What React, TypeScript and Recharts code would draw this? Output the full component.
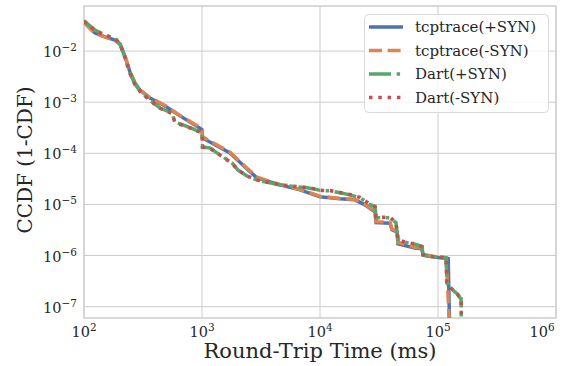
import React from "react";
import {
  LineChart,
  Line,
  XAxis,
  YAxis,
  CartesianGrid,
  Legend,
  ReferenceArea,
} from "recharts";

// [round-trip time (ms), ccdf]
const tcptraceSyn = [
  [100, 0.0368], [124, 0.0225], [151, 0.019], [183, 0.0164], [202, 0.0137],
  [222, 0.008], [245, 0.0039], [270, 0.00237], [298, 0.00173], [362, 0.00121],
  [486, 0.00084], [651, 0.00054], [791, 0.00041], [961, 0.00031], [1000, 0.00029],
  [1010, 0.0002], [1726, 0.000102], [2310, 0.000054], [2925, 0.000033],
  [4580, 0.0000241], [6770, 0.0000193], [10000, 0.0000141], [14760, 0.0000129],
  [19800, 0.0000123], [24000, 0.0000098], [29240, 0.0000072], [29850, 0.0000044],
  [39200, 0.0000043], [40700, 0.0000032], [45000, 0.0000029], [45800, 0.0000017],
  [63800, 0.0000014], [73100, 0.00000135], [74600, 0.00000102], [104000, 0.0000009],
  [122000, 0.00000087], [125000, 6e-8],
];

const tcptraceNoSyn = [
  [100, 0.0362], [124, 0.0222], [151, 0.0188], [183, 0.0163], [202, 0.0136],
  [222, 0.0081], [245, 0.004], [270, 0.0024], [298, 0.00175], [362, 0.00123],
  [486, 0.00086], [651, 0.00055], [791, 0.00042], [961, 0.00032], [1000, 0.0003],
  [1010, 0.00021], [1726, 0.000105], [2310, 0.000056], [2925, 0.000034],
  [4580, 0.0000245], [6770, 0.0000196], [10000, 0.0000145], [14760, 0.0000131],
  [19800, 0.0000125], [24000, 0.0000101], [29240, 0.0000074], [29850, 0.0000046],
  [39200, 0.0000045], [40700, 0.0000033], [45000, 0.000003], [45800, 0.0000018],
  [63800, 0.00000145], [73100, 0.0000014], [74600, 0.00000105], [104000, 0.00000092],
  [117000, 0.00000088], [121000, 0.00000022], [124000, 6e-8],
];

const dartSyn = [
  [100, 0.039], [124, 0.0257], [151, 0.0205], [183, 0.0179], [202, 0.0137],
  [222, 0.0077], [245, 0.0037], [270, 0.00226], [298, 0.00166], [362, 0.0011],
  [441, 0.00077], [557, 0.00061], [590, 0.00041], [690, 0.00036], [839, 0.0003],
  [961, 0.00026], [1000, 0.00024], [1010, 0.000133], [1169, 0.000127],
  [1340, 0.000102], [1507, 0.000085], [1795, 0.000065], [2019, 0.000047],
  [2405, 0.000036], [2925, 0.00003], [3767, 0.0000264], [4580, 0.0000241],
  [6380, 0.0000221], [7760, 0.0000211], [8730, 0.0000202], [10400, 0.0000185],
  [12150, 0.0000185], [14760, 0.0000169], [17950, 0.0000154], [21830, 0.0000135],
  [26500, 0.00001], [29240, 0.000009], [29850, 0.0000055], [39200, 0.0000055],
  [44000, 0.0000044], [45800, 0.00000204], [50500, 0.00000186], [66400, 0.00000163],
  [73100, 0.00000149], [74600, 0.00000104], [85500, 0.00000095], [117000, 0.00000091],
  [119000, 0.000000294], [126000, 0.000000235], [145000, 0.00000018],
  [153000, 0.00000015], [157000, 0.000000145], [157500, 6e-8],
];

const dartNoSyn = [
  [100, 0.0385], [124, 0.0252], [151, 0.0202], [183, 0.0177], [202, 0.0136],
  [222, 0.0076], [245, 0.0037], [270, 0.00224], [298, 0.00164], [362, 0.00108],
  [441, 0.00076], [557, 0.0006], [590, 0.0004], [690, 0.00035], [839, 0.0003],
  [961, 0.00026], [1000, 0.00024], [1010, 0.000132], [1169, 0.000126],
  [1340, 0.000101], [1507, 0.000084], [1795, 0.000064], [2019, 0.000047],
  [2405, 0.000036], [2925, 0.00003], [3767, 0.0000266], [4580, 0.0000243],
  [6380, 0.0000223], [7760, 0.0000213], [8730, 0.0000204], [10400, 0.0000188],
  [12150, 0.0000187], [14760, 0.0000171], [17950, 0.0000156], [21830, 0.0000137],
  [26500, 0.0000101], [29240, 0.0000091], [29850, 0.0000056], [39200, 0.0000056],
  [44000, 0.0000045], [45800, 0.00000206], [50500, 0.00000188], [66400, 0.00000165],
  [73100, 0.0000015], [74600, 0.00000105], [85500, 0.00000096], [117000, 0.00000092],
  [119000, 0.0000003], [126000, 0.00000024], [145000, 0.000000182],
  [153000, 0.000000152], [157000, 0.000000147], [157500, 6e-8],
];

const xTicks = [1e2, 1e3, 1e4, 1e5, 1e6];
const yTicks = [1e-7, 1e-6, 1e-5, 1e-4, 1e-3, 1e-2];
const yDomain = [6e-8, 0.0762];

const FONT = "DejaVu Serif";
const CSS_FONT = '"DejaVu Serif", serif';
const INK = "#262626";

const series = [
  { name: "tcptrace(+SYN)", data: tcptraceSyn, color: "#4c72b0", dash: undefined },
  { name: "tcptrace(-SYN)", data: tcptraceNoSyn, color: "#dd8452", dash: "13 5.6" },
  { name: "Dart(+SYN)", data: dartSyn, color: "#55a868", dash: "22 5.6 3.5 5.6" },
  { name: "Dart(-SYN)", data: dartNoSyn, color: "#c44e52", dash: "3.5 5.8" },
];

const toPoints = (rows: number[][]) => rows.map(([x, y]) => ({ x, y }));

function expLabel(v: number) {
  const e = Math.round(Math.log10(v));
  return e < 0 ? "\u2212" + -e : String(e);
}

function XTick(props: any) {
  const { x, y, payload } = props;
  return (
    <text x={x} y={y + 19} textAnchor="middle" fill={INK} fontFamily={FONT} fontSize={14.5}>
      10
      <tspan dy={-6} fontSize={10.5}>{expLabel(payload.value)}</tspan>
    </text>
  );
}

function YTick(props: any) {
  const { x, y, payload } = props;
  return (
    <text x={x - 7} y={y + 6} textAnchor="end" fill={INK} fontFamily={FONT} fontSize={14.5}>
      10
      <tspan dy={-6} fontSize={10.5}>{expLabel(payload.value)}</tspan>
    </text>
  );
}

// legend drawn as svg so it uses the same font as the axes
function LegendBox() {
  const rowH = 23.5;
  return (
    <svg width={186} height={100} style={{ display: "block", fontFamily: CSS_FONT }}>
      <rect x={0.5} y={0.5} width={184} height={98} rx={4} fill="#ffffff" fillOpacity={0.8} stroke="#d9d9d9" />
      {series.map((s, i) => {
        const cy = 13 + i * rowH;
        return (
          <g key={s.name}>
            <line x1={5} y1={cy} x2={39} y2={cy} stroke={s.color} strokeWidth={3.5} strokeDasharray={s.dash} />
            <text x={51} y={cy + 5} fill={INK} fontFamily={FONT} fontSize={15} style={{ fontFamily: CSS_FONT }}>
              {s.name}
            </text>
          </g>
        );
      })}
    </svg>
  );
}

export default function App() {
  return (
    <div style={{ position: "absolute", left: 0, top: 0, background: "#fff" }}>
      <LineChart width={570} height={366} margin={{ top: 6, right: 14, bottom: 0, left: 0 }}>
        <CartesianGrid stroke="#cccccc" strokeWidth={1} />
        <XAxis
          dataKey="x"
          type="number"
          scale="log"
          domain={[100, 1e6]}
          ticks={xTicks}
          allowDataOverflow
          height={48}
          axisLine={false}
          tickLine={false}
          tickSize={0}
          tickMargin={0}
          tick={<XTick />}
          label={(p: any) => {
            const vb = p.viewBox;
            return (
              <text x={vb.x + vb.width / 2} y={358} textAnchor="middle" fill={INK} fontFamily={FONT} fontSize={21}>
                Round-Trip Time (ms)
              </text>
            );
          }}
        />
        <YAxis
          dataKey="y"
          type="number"
          scale="log"
          domain={yDomain}
          ticks={yTicks}
          allowDataOverflow
          width={84}
          axisLine={false}
          tickLine={false}
          tickSize={0}
          tickMargin={0}
          tick={<YTick />}
          label={(p: any) => {
            const vb = p.viewBox;
            const cy = vb.y + vb.height / 2 - 2;
            return (
              <text x={32} y={cy} transform={`rotate(-90 32 ${cy})`} textAnchor="middle" fill={INK} fontFamily={FONT} fontSize={20}>
                CCDF (1-CDF)
              </text>
            );
          }}
        />
        <ReferenceArea
          x1={100}
          x2={1e6}
          y1={yDomain[0]}
          y2={yDomain[1]}
          fill="none"
          stroke="#cccccc"
          strokeWidth={1.2}
          ifOverflow="visible"
        />
        {series.map((s) => (
          <Line
            key={s.name}
            data={toPoints(s.data)}
            dataKey="y"
            name={s.name}
            type="linear"
            stroke={s.color}
            strokeWidth={3.5}
            strokeDasharray={s.dash}
            dot={false}
            activeDot={false}
            isAnimationActive={false}
          />
        ))}
        <Legend
          verticalAlign="middle"
          align="center"
          layout="horizontal"
          wrapperStyle={{ top: 14, left: 364, width: 186, height: 100 }}
          content={() => <LegendBox />}
        />
      </LineChart>
    </div>
  );
}
